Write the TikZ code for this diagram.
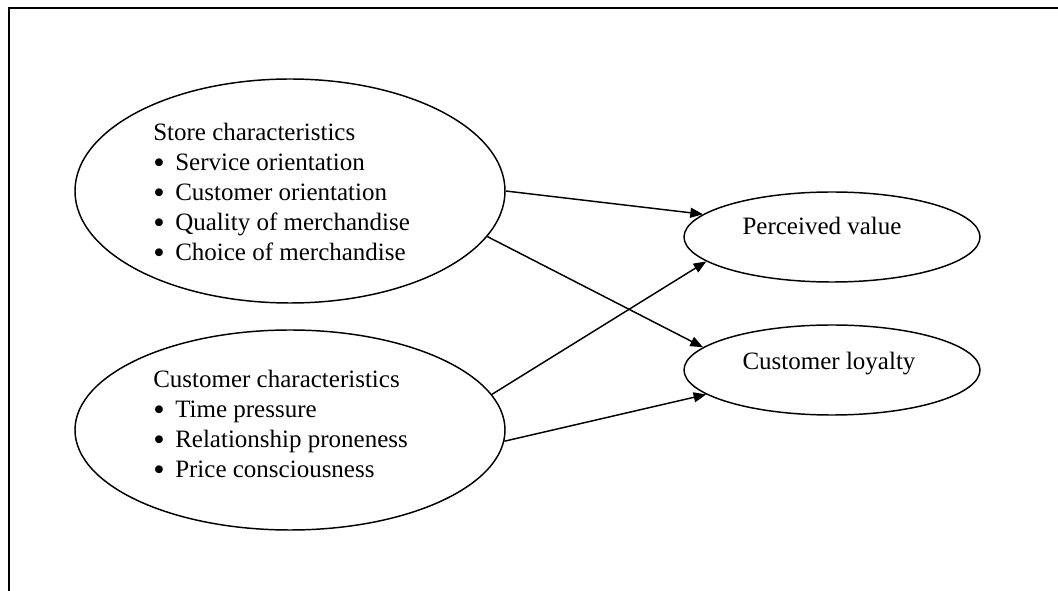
\documentclass[tikz,border=0pt]{standalone}
\usepackage{fontspec}
\setmainfont{Liberation Serif}
\usetikzlibrary{arrows.meta,shapes.geometric}

\newcommand{\itm}[1]{\makebox[16.5pt][l]{\smash{\raisebox{-0.1em}{\scalebox{1.3}{\textbullet}}}}#1}

\begin{document}
\begin{tikzpicture}[
    x=0.75pt,y=-0.75pt,
    oval/.style={draw,ellipse,line width=1.1pt,inner sep=0pt},
    txt/.style={inner sep=0pt,align=left,font=\fontsize{18.75pt}{22.5pt}\selectfont},
    arrow/.style={-{Triangle[length=9.5pt,width=7.5pt]},line width=1.1pt}
]
\useasboundingbox (0,0) rectangle (1058,591);
\draw[line width=1.2pt] (1058,8) -- (9,8) -- (9,591);

% left ellipses
\node[oval,minimum width=322.5pt,minimum height=168pt] (store) at (290,191) {};
\node[oval,minimum width=322.5pt,minimum height=150pt] (cust) at (290,430) {};
\node[txt,anchor=north west] (storetxt) at (153,123)
    {Store characteristics\\\itm{Service orientation}\\\itm{Customer orientation}\\
     \itm{Quality of merchandise}\\\itm{Choice of merchandise}};
\node[txt,anchor=north west] (custtxt) at (153,370)
    {Customer characteristics\\\itm{Time pressure}\\\itm{Relationship proneness}\\
     \itm{Price consciousness}};

% outcomes
\node[oval,minimum width=222pt,minimum height=67.5pt] (value) at (832,237) {};
\node[oval,minimum width=222pt,minimum height=67.5pt] (loyal) at (832,370) {};
\node[txt,anchor=base] (valuetxt) at (822,235) {Perceived value};
\node[txt,anchor=base] (loyaltxt) at (829,370) {Customer loyalty};

\draw[arrow] (store.east) -- (value.170);
\draw[arrow] (store.-13) -- (loyal.170);
\draw[arrow] (cust.10) -- (value.191);
\draw[arrow] (cust.-3) -- (loyal.191);
\end{tikzpicture}
\end{document}
